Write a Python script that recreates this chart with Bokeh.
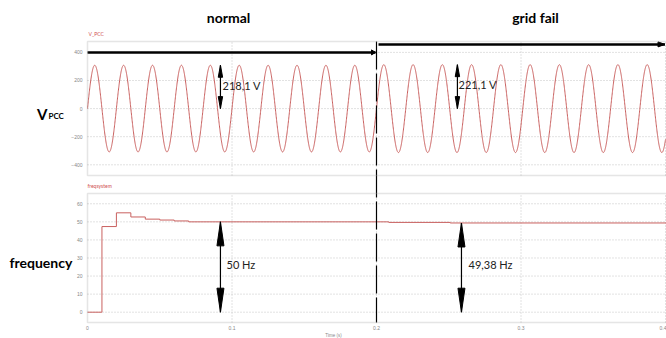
import numpy as np
from bokeh.plotting import figure
from bokeh.models import Range1d, Label, BoxAnnotation, LinearAxis
from bokeh.embed import file_html
from bokeh.resources import INLINE

# ---------------- data ----------------
segment_labels = ["normal", "grid fail"]
segment_start_s = [0.0, 0.2]
segment_end_s = [0.2, 0.4]
segment_rms_v = [218.1, 221.1]          # annotated RMS voltage
segment_freq_hz = [50.0, 49.38]         # annotated frequency
segment_bar_level_v = [400.0, 457.0]    # black bars above the waveform
rms_text = ["218,1 V", "221,1 V"]
volt_marker_time_s = [0.092, 0.256]

freq_time_s = [0.0, 0.01, 0.02, 0.03, 0.04, 0.05, 0.06, 0.07, 0.2085, 0.251, 0.41]
freq_value_hz = [0.0, 47.4, 55.0, 52.7, 51.5, 51.0, 50.5, 50.0, 49.7, 49.38, 49.38]
freq_text = ["50 Hz", "49,38 Hz"]
freq_marker_time_s = [0.092, 0.2588]
freq_marker_hz = [50.0, 49.38]

v_ticks = [-400, -200, 0, 200, 400]
f_ticks = [0, 10, 20, 30, 40, 50, 60]
t_ticks = [0, 0.1, 0.2, 0.3, 0.4]
event_time_s = 0.2

# ---------------- geometry (page pixels -> data) ----------------
W, H = 666, 338
PX_PER_S = 1445.0
X0_PAGE = 87.0
V_PER_PX = 7.117
V0_PAGE = 108.1
F_PX_PER_HZ = 1.807
F0_PAGE = 311.7


def tx(px):
    return (px - X0_PAGE) / PX_PER_S


def vy(py):
    return (V0_PAGE - py) * V_PER_PX


def fy(py):
    return (F0_PAGE - py) / F_PX_PER_HZ


TEXT_FONT = "Lato"
RED = "#c9605f"
GRID = "#c4c4c4"
FRAME = "#a9a9a9"
TICK = "#888888"
sx = 1.0 / PX_PER_S

p = figure(width=W, height=H, x_range=Range1d(tx(0), tx(W)), y_range=Range1d(vy(H), vy(0)),
           output_backend="svg", toolbar_location=None,
           min_border_left=0, min_border_right=0, min_border_top=0, min_border_bottom=0)
p.extra_y_ranges = {"freq": Range1d(fy(H), fy(0))}
p.title.visible = False
p.outline_line_color = None
p.background_fill_color = "white"
p.border_fill_color = "white"
p.xgrid.visible = False
p.ygrid.visible = False

# panel geometry (page px)
V_TOP, V_BOT = 41, 175
F_TOP, F_BOT = 193, 322
x_right = tx(W + 3)

# ---------------- axes ----------------
p.yaxis.fixed_location = 0.0
p.yaxis.ticker = v_ticks
f_axis = LinearAxis(y_range_name="freq", ticker=f_ticks, fixed_location=0.0)
p.add_layout(f_axis, "left")
for ax_ in (p.yaxis[0], f_axis, p.xaxis[0]):
    ax_.major_label_text_font_size = "5px"
    ax_.major_label_text_color = TICK
    ax_.axis_line_color = None
    ax_.major_tick_line_color = None
    ax_.minor_tick_line_color = None
    ax_.major_tick_out = 0
    ax_.major_tick_in = 0
    ax_.minor_tick_out = 0
    ax_.major_label_standoff = 5
p.xaxis.fixed_location = vy(F_BOT)
p.xaxis.ticker = t_ticks
p.xaxis.major_label_standoff = 3
p.xaxis.axis_label = "Time (s)"
p.xaxis.axis_label_text_font_size = "4.5px"
p.xaxis.axis_label_text_font_style = "normal"
p.xaxis.axis_label_text_color = TICK
p.xaxis.axis_label_standoff = 0

# ---------------- panel frames and grids ----------------
p.add_layout(BoxAnnotation(left=0, right=x_right, bottom=vy(V_BOT), top=vy(V_TOP),
                           fill_alpha=0, line_color=FRAME, line_width=1.5))
p.add_layout(BoxAnnotation(left=0, right=x_right, bottom=fy(F_BOT), top=fy(F_TOP),
                           y_range_name="freq", fill_alpha=0, line_color=FRAME, line_width=1.5))
p.segment(x0=[0] * len(v_ticks), x1=[x_right] * len(v_ticks), y0=v_ticks, y1=v_ticks,
          line_color=GRID, line_dash="1 2", line_width=1)
p.segment(x0=[0] * len(f_ticks), x1=[x_right] * len(f_ticks), y0=f_ticks, y1=f_ticks,
          y_range_name="freq", line_color=GRID, line_dash="1 2", line_width=1)
inner_t = t_ticks[1:]
p.segment(x0=inner_t, x1=inner_t, y0=[vy(V_BOT)] * len(inner_t), y1=[vy(V_TOP)] * len(inner_t),
          line_color=GRID, line_dash="1 2", line_width=1)
p.segment(x0=inner_t, x1=inner_t, y0=[fy(F_BOT)] * len(inner_t), y1=[fy(F_TOP)] * len(inner_t),
          y_range_name="freq", line_color=GRID, line_dash="1 2", line_width=1)

# ---------------- voltage waveform (built from the segment values above) ----------------
ts, vs = [], []
phase = 0.0
for t0, t1, rms, f in zip(segment_start_s, segment_end_s, segment_rms_v, segment_freq_hz):
    t = np.arange(t0, t1 + 1e-9, 0.0001)
    ts.append(t)
    vs.append(rms * np.sqrt(2) * np.sin(phase + 2 * np.pi * f * (t - t0)))
    phase += 2 * np.pi * f * (t1 - t0)
p.line(np.concatenate(ts), np.concatenate(vs), line_color=RED, line_width=1)

# ---------------- frequency ----------------
p.step(freq_time_s, freq_value_hz, mode="after", y_range_name="freq",
       line_color=RED, line_width=1)

# event line
p.segment(x0=[event_time_s], x1=[event_time_s], y0=[vy(V_TOP)], y1=[vy(F_BOT)],
          line_color="black", line_width=1.2, line_dash="28 4")

# black segment bars with heads
bar_x0 = [segment_start_s[0], segment_start_s[1] + 2 * sx]
bar_x1 = [segment_end_s[0] - 1 * sx, tx(W - 1.5)]
p.segment(x0=bar_x0, x1=bar_x1, y0=segment_bar_level_v, y1=segment_bar_level_v,
          line_color="black", line_width=2.5)
hx, hy = [], []
for x1, lv, L in zip(bar_x1, segment_bar_level_v, [4, 7]):
    hx.append([x1, x1 - L * sx, x1 - L * sx])
    hy.append([lv, lv + 2.5 * V_PER_PX, lv - 2.5 * V_PER_PX])
p.patches(hx, hy, fill_color="black", line_color="black")

# vertical double arrows (RMS)
peaks = [r * np.sqrt(2) for r in segment_rms_v]
p.segment(x0=volt_marker_time_s, x1=volt_marker_time_s, y0=[0, 0], y1=peaks,
          line_color="black", line_width=1.2)
ax, ay = [], []
for x, top in zip(volt_marker_time_s, peaks):
    L, Wd = 12 * V_PER_PX, 2.2 * sx
    ax.append([x, x - Wd, x + Wd]); ay.append([top, top - L, top - L])
    ax.append([x, x - Wd, x + Wd]); ay.append([0, L, L])
p.patches(ax, ay, fill_color="black", line_color="black")

# vertical double arrows (frequency)
p.segment(x0=freq_marker_time_s, x1=freq_marker_time_s, y0=[0, 0], y1=freq_marker_hz,
          y_range_name="freq", line_color="black", line_width=1.2)
bx, by = [], []
for x, top in zip(freq_marker_time_s, freq_marker_hz):
    L, Wd = 24 / F_PX_PER_HZ, 3.5 * sx
    bx.append([x, x - Wd, x + Wd]); by.append([top, top - L, top - L])
    bx.append([x, x - Wd, x + Wd]); by.append([0, L, L])
p.patches(bx, by, y_range_name="freq", fill_color="black", line_color="black")


# ---------------- texts ----------------
def vlabel(x_px, y_px, text, size, bold=False, color="black", align="left",
           baseline="middle", freq=False):
    kw = dict(y_range_name="freq") if freq else {}
    p.add_layout(Label(x=tx(x_px), y=fy(y_px) if freq else vy(y_px), text=text,
                       text_font=TEXT_FONT, text_font_size=size,
                       text_font_style="bold" if bold else "normal", text_color=color,
                       text_align=align, text_baseline=baseline, **kw))


for x_px, y_px, txt in zip([222, 458], [85, 84], rms_text):
    vlabel(x_px, y_px, txt, "11px", color="#222222")
for x_px, txt in zip([226, 468], freq_text):
    vlabel(x_px, 264, txt, "11px", color="#222222", freq=True)
for x_px, txt in zip([228, 535], segment_labels):
    vlabel(x_px, 17, txt, "14px", bold=True, align="center")
vlabel(88, 33, "V_PCC", "5px", color="#d05050")
vlabel(87, 185, "freqsystem", "5px", color="#d05050", freq=True)
vlabel(36.5, 113.5, "V", "15px", bold=True, baseline="alphabetic")
vlabel(48, 115.5, "PCC", "8px", bold=True, baseline="alphabetic")
vlabel(9, 262, "frequency", "14px", bold=True, freq=True)

open("out.html", "w").write(file_html(p, INLINE))
